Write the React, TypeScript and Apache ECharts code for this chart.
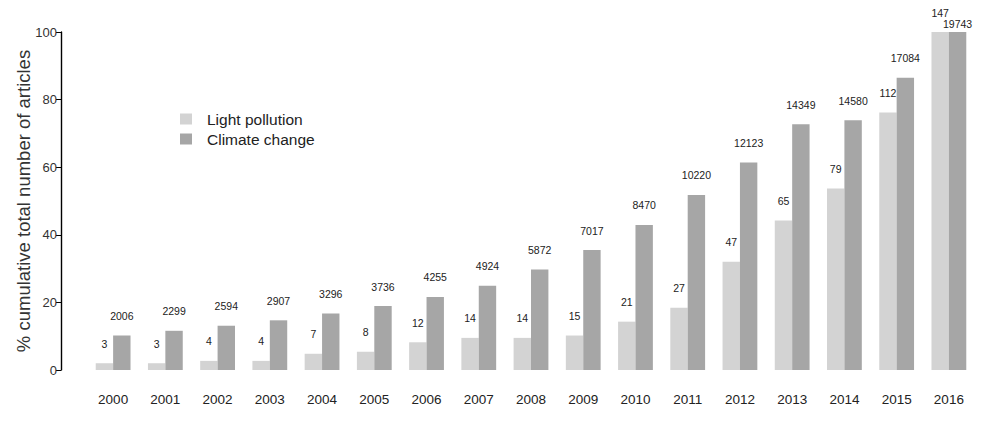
import React, { useEffect, useRef } from "react";
import * as echarts from "echarts";

const years = ["2000", "2001", "2002", "2003", "2004", "2005", "2006", "2007", "2008", "2009", "2010", "2011", "2012", "2013", "2014", "2015", "2016"];
// cumulative article counts (bar labels)
const lightCounts = [3, 3, 4, 4, 7, 8, 12, 14, 14, 15, 21, 27, 47, 65, 79, 112, 147];
const climateCounts = [2006, 2299, 2594, 2907, 3296, 3736, 4255, 4924, 5872, 7017, 8470, 10220, 12123, 14349, 14580, 17084, 19743];
// bar heights: % of cumulative total
const lightPct = [2.0, 2.0, 2.7, 2.7, 4.8, 5.4, 8.2, 9.5, 9.5, 10.2, 14.3, 18.4, 32.0, 44.2, 53.7, 76.2, 100];
const climatePct = [10.2, 11.6, 13.1, 14.7, 16.7, 18.9, 21.6, 24.9, 29.7, 35.5, 42.9, 51.8, 61.4, 72.7, 73.9, 86.5, 100];
const yTicks = [0, 20, 40, 60, 80, 100];

const LIGHT = "#d3d3d3";
const DARK = "#a6a6a6";
const FONT = "Liberation Sans, Arial, sans-serif";

export default function App() {
  const ref = useRef<HTMLDivElement>(null);
  useEffect(() => {
    const chart = echarts.init(ref.current!, null, { renderer: "svg" });
    const labelBase = {
      show: true,
      position: "top",
      distance: 14,
      fontSize: 10.5,
      color: "#222",
      fontFamily: FONT,
    };
    const climateNudge: Record<number, number> = { 16: 11 };
    chart.setOption({
      animation: false,
      backgroundColor: "#ffffff",
      textStyle: { fontFamily: FONT },
      grid: { left: 87, right: 6, top: 32, bottom: 54 },
      legend: {
        orient: "vertical",
        left: 180,
        top: 111,
        padding: 0,
        itemWidth: 12,
        itemHeight: 11,
        itemGap: 4,
        icon: "rect",
        textStyle: { fontSize: 15.5, color: "#222", fontFamily: FONT, padding: [0, 0, 0, 10] },
        data: ["Light pollution", "Climate change"],
      },
      xAxis: {
        type: "category",
        data: years,
        axisLine: { show: false },
        axisTick: { show: false },
        axisLabel: { fontSize: 13.5, color: "#222", margin: 22, fontFamily: FONT },
      },
      yAxis: {
        type: "value",
        min: 0,
        max: 100,
        interval: 20,
        offset: 26,
        splitLine: { show: false },
        axisLine: { show: true, lineStyle: { color: "#000", width: 1.4 } },
        axisTick: { show: true, length: 5, lineStyle: { color: "#000" } },
        axisLabel: {
          fontSize: 13,
          color: "#333",
          margin: 4,
          fontFamily: FONT,
          formatter: (v: number) => (yTicks.includes(v) ? String(v) : ""),
        },
        name: "% cumulative total number of articles",
        nameLocation: "middle",
        nameGap: 28,
        nameMoveOverlap: false,
        nameTextStyle: { fontSize: 18.5, color: "#333", fontFamily: FONT },
      },
      series: [
        {
          name: "Light pollution",
          type: "bar",
          barWidth: 17.4,
          barGap: "0%",
          itemStyle: { color: LIGHT },
          data: lightPct.map((v, i) => ({
            value: v,
            label: { ...labelBase, formatter: String(lightCounts[i]) },
          })),
        },
        {
          name: "Climate change",
          type: "bar",
          barWidth: 17.4,
          barGap: "0%",
          itemStyle: { color: DARK },
          data: climatePct.map((v, i) => ({
            value: v,
            label: { ...labelBase, formatter: String(climateCounts[i]), offset: [0, climateNudge[i] ?? 0] },
          })),
        },
      ],
    });
    return () => chart.dispose();
  }, []);
  return <div ref={ref} style={{ position: "fixed", left: 0, top: 0, width: 981, height: 424 }} />;
}
